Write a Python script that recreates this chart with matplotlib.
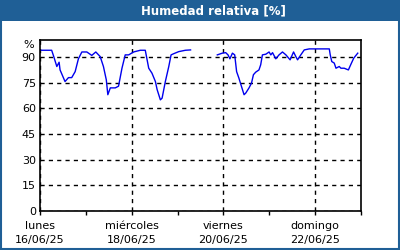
import numpy as np
import matplotlib
matplotlib.use("Agg")
import matplotlib.pyplot as plt
from matplotlib.patches import Rectangle

# Hours since 16/06/25 00:00 and relative humidity (%); NaN = missing data
hours = [0, 6.1, 7.0, 8.8, 10, 10.5, 13.1, 14.9, 16.6, 18.4, 20.1, 21.9, 24.5, 27.1,
         29.2, 31.5, 33.2, 34.7, 35.5, 36.8, 39.4, 41.1, 42.9, 44.6, 46.4, 49, 52.5,
         55.1, 56.9, 58.6, 60.4, 61.3, 63, 63.9, 65.6, 67.4, 68.6, 70, 72.6, 76.1, 78.8,
         85.0,
         92.8, 95.4, 97.2, 98.4, 99.4, 100.7, 101.9, 102.9, 104.1, 105.4, 106.8, 107.7,
         109.4, 110.7, 111.7, 112.9, 114.6, 115.5, 116.4, 118.2, 119.9, 120.8, 121.7,
         123.4, 125.1, 126.9, 128.7, 130.9, 132.7, 133.9, 134.8, 136.5, 138.3, 140.9,
         151.4, 151.9, 152.7, 154, 154.9, 156.6, 157.5, 159.2, 161.4, 162.8, 164.2, 166.3]
humidity = [94, 94, 91, 84.5, 87, 82.5, 75.7, 78, 78, 81.5, 89, 93, 93, 91,
            93, 90.3, 84.5, 76.7, 68, 72, 72, 73, 83.5, 91.3, 91.3, 93, 94,
            94, 83.5, 80.6, 75.7, 71, 65, 66, 75.7, 84.5, 91.3, 92, 93.2, 94, 94.2,
            np.nan,
            91.3, 92.3, 92.6, 91.3, 89, 92.3, 91.3, 81.5, 77.7, 73, 68, 69,
            72, 74.8, 79.7, 81.2, 82.5, 85.5, 91.3, 91.7, 93, 91.3, 92.6,
            89, 91.3, 93, 91.3, 88.4, 93, 90.3, 88.4, 91.3, 94.2, 94.8,
            94.8, 91.3, 87.4, 86.5, 83.5, 84.5, 83.5, 83.5, 82.5, 86, 89.4, 92.3]

tick_days = [0, 2, 4, 6]
tick_labels = ["lunes\n16/06/25", "miércoles\n18/06/25", "viernes\n20/06/25", "domingo\n22/06/25"]
y_ticks = [0, 15, 30, 45, 60, 75, 90]

BLUE_BORDER = "#1f5f96"
fig = plt.figure(figsize=(4, 2.5), dpi=100)
fig.patch.set_facecolor("white")

# title band and border
fig.add_artist(Rectangle((0, 229/250), 1, 21/250, transform=fig.transFigure,
                         facecolor=BLUE_BORDER, edgecolor="none", zorder=0))
fig.add_artist(Rectangle((0.002, 0.003), 0.995, 0.99, transform=fig.transFigure,
                         facecolor="none", edgecolor=BLUE_BORDER, linewidth=1.5, zorder=0))
fig.text(213/400, 239/250, "Humedad relativa [%]", color="white", fontsize=8.5,
         fontweight="bold", ha="center", va="center", family="DejaVu Sans")

ax = fig.add_axes([40/400, (250-211)/250, 321/400, 171/250])
days = np.array(hours) / 24.0
ax.plot(days, humidity, color="#0000ee", linewidth=1.0)

ax.set_xlim(0, 7)
ax.set_ylim(0, 100)
ax.set_yticks(y_ticks)
ax.set_yticklabels([str(v) for v in y_ticks], fontsize=8)
ax.set_xticks(tick_days)
ax.set_xticklabels(tick_labels, fontsize=8, linespacing=1.5)
ax.set_xticks(np.arange(0, 8), minor=True)
ax.tick_params(axis="x", which="both", length=3, width=1, direction="out", pad=4)
ax.tick_params(axis="y", length=0, pad=3)
ax.text(-0.02, 97, "%", transform=ax.get_yaxis_transform(), ha="right", va="center", fontsize=8)

ax.grid(True, axis="y", color="black", linestyle=(0, (3, 3)), linewidth=1)
ax.grid(True, axis="x", which="major", color="black", linestyle=(0, (3, 3)), linewidth=1)
for s in ax.spines.values():
    s.set_linewidth(1.2)

fig.savefig("out.png", dpi=100)
